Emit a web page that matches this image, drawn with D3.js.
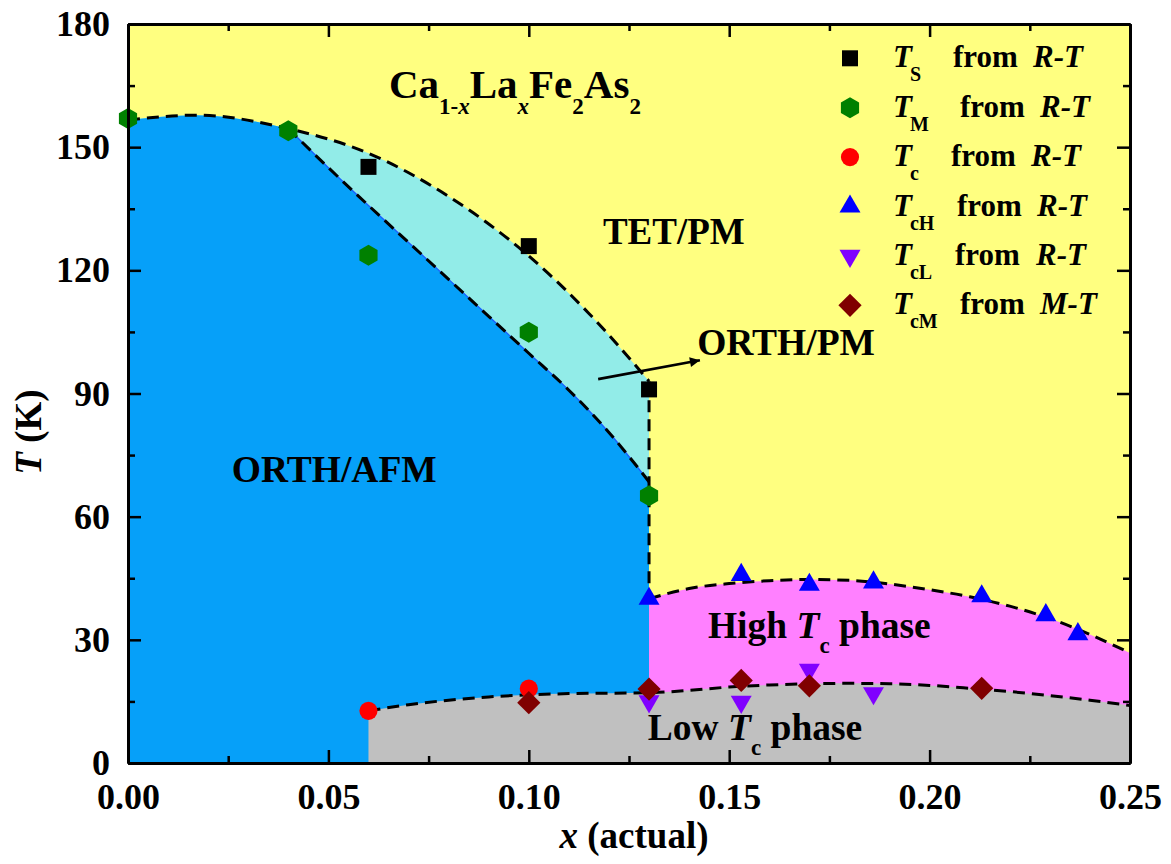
<!DOCTYPE html>
<html><head><meta charset="utf-8">
<script src="https://cdn.jsdelivr.net/npm/d3@7"></script>
<style>
body{margin:0;background:#fff}
svg text{font-family:"Liberation Serif","Times New Roman",serif;font-weight:bold;fill:#000}
</style>
</head><body>
<svg id="c" width="1171" height="864"></svg>
<script>
// ---------- data (x = La content, T in K) ----------
const tsX  = [0.06, 0.10, 0.13];
const tsT  = [145.2, 125.9, 91.0];
const tmX  = [0, 0.04, 0.06, 0.10, 0.13];
const tmT  = [157, 154, 123.7, 104.9, 65.1];
const tcX  = [0.06, 0.10];
const tcT  = [12.7, 18.1];
const tcHX = [0.13, 0.153, 0.170, 0.186, 0.213, 0.229, 0.237];
const tcHT = [40.0, 45.8, 43.4, 44.0, 40.6, 36.0, 31.4];
const tcLX = [0.13, 0.153, 0.170, 0.186];
const tcLT = [15.0, 14.9, 22.7, 17.0];
const tcMX = [0.10, 0.13, 0.153, 0.170, 0.213];
const tcMT = [14.7, 18.0, 20.1, 18.8, 18.2];

// phase boundaries (dashed guide lines)
const upperX = [0, 0.017, 0.04, 0.06, 0.08, 0.10, 0.115, 0.13];
const upperT = [156.6, 157.8, 154.5, 148.5, 138, 123.5, 109.5, 93];
const lowerX = [0.04, 0.05, 0.06, 0.07, 0.08, 0.09, 0.10, 0.11, 0.12, 0.13];
const lowerT = [154.5, 145, 135.8, 126.8, 117.8, 108.8, 99.8, 90.8, 80.5, 68.5];
const highX  = [0.13, 0.14, 0.15, 0.16, 0.17, 0.18, 0.19, 0.20, 0.21, 0.22, 0.23, 0.24, 0.25];
const highT  = [40, 42.5, 43.7, 44.4, 44.7, 44.5, 43.6, 42.2, 40.5, 38.2, 35.2, 31.3, 26.8];
const lowX   = [0.06, 0.07, 0.08, 0.09, 0.10, 0.11, 0.12, 0.13, 0.14, 0.15, 0.16, 0.17, 0.18, 0.19, 0.20, 0.21, 0.22, 0.23, 0.24, 0.25];
const lowT   = [12.7, 14.2, 15.3, 16.1, 16.6, 16.9, 17.0, 17.1, 17.7, 18.5, 19.0, 19.3, 19.4, 19.3, 18.9, 18.2, 17.4, 16.4, 15.3, 14.0];

const xMajor = [0, 0.05, 0.10, 0.15, 0.20, 0.25];
const xMinor = [0.025, 0.075, 0.125, 0.175, 0.225];
const yMajor = [0, 30, 60, 90, 120, 150, 180];
const yMinor = [15, 45, 75, 105, 135, 165];

const legendSub = ["S", "M", "c", "cH", "cL", "cM"];
const legendSrc = ["R-T", "R-T", "R-T", "R-T", "R-T", "M-T"];

// ---------- drawing ----------
const svg = d3.select("#c");
const xs = d3.scaleLinear().domain([0, 0.25]).range([128, 1130]);
const ys = d3.scaleLinear().domain([0, 180]).range([763, 24]);
const zip = (a, b) => a.map((v, i) => [v, b[i]]);
const line = d3.line().x(d => xs(d[0])).y(d => ys(d[1])).curve(d3.curveMonotoneX);
const P = (x, t) => xs(x) + "," + ys(t);
const tail = s => s.replace(/^M/, "L");

const upper = zip(upperX, upperT), lower = zip(lowerX, lowerT);
const high = zip(highX, highT), low = zip(lowX, lowT);

const defs = svg.append("defs");
defs.append("clipPath").attr("id", "plot").append("rect")
  .attr("x", xs(0)).attr("y", ys(180)).attr("width", xs(0.25) - xs(0)).attr("height", ys(0) - ys(180));
const underUpper = "M" + P(0, 0) + tail(line(upper)) + "L" + P(0.13, 0) + "Z";
defs.append("clipPath").attr("id", "uu").append("path").attr("d", underUpper);

const g = svg.append("g").attr("clip-path", "url(#plot)");
g.append("rect").attr("x", xs(0)).attr("y", ys(180)).attr("width", xs(0.25) - xs(0)).attr("height", ys(0) - ys(180)).attr("fill", "#FFFF80");
// cyan ORTH/PM
g.append("path").attr("d", underUpper).attr("fill", "#92ECE8");
// blue ORTH/AFM
g.append("path").attr("clip-path", "url(#uu)")
  .attr("d", "M" + P(0, 0) + "L" + P(0, 180) + "L" + P(0.04, 180) + tail(line(lower)) + "L" + P(0.13, 0) + "Z")
  .attr("fill", "#06A0F9");
g.append("path").attr("d", line(lower)).attr("fill", "none").attr("stroke", "#1a5cff").attr("stroke-width", 1.3);
// pink high Tc
g.append("path").attr("d", "M" + P(0.13, 0) + tail(line(high)) + "L" + P(0.25, 0) + "Z").attr("fill", "#FF80FF");
// gray low Tc
g.append("path").attr("d", "M" + P(0.06, 0) + tail(line(low)) + "L" + P(0.25, 0) + "Z").attr("fill", "#C0C0C0");

// dashed boundaries
const dash = sel => sel.attr("fill", "none").attr("stroke", "#000").attr("stroke-width", 3).attr("stroke-dasharray", "12,7");
dash(g.append("path").attr("d", line(upper)));
dash(g.append("path").attr("d", line(lower)));
dash(g.append("path").attr("d", line(high)));
dash(g.append("path").attr("d", line(low)));
dash(g.append("path").attr("d", "M" + P(0.13, upperT[upperT.length - 1]) + "L" + P(0.13, highT[0])));

// annotation labels
function label(x, t, parts, size) {
  const tx = svg.append("text").attr("x", xs(x)).attr("y", ys(t)).style("font-size", size + "px");
  parts.forEach(p => {
    const s = tx.append("tspan").text(p.t);
    if (p.i) s.style("font-style", "italic");
    if (p.sub) s.style("font-size", p.sub + "px");
    if (p.dy) s.attr("dy", p.dy);
  });
  return tx;
}
label(0.0651, 162.0, [{t:"Ca"},{t:"1-",sub:23,dy:16},{t:"x",i:1,sub:23},{t:"La",dy:-16},{t:"x",i:1,sub:23,dy:16},{t:"Fe",dy:-16},{t:"2",sub:23,dy:16},{t:"As",dy:-16},{t:"2",sub:23,dy:16}], 41);
label(0.1185, 126.4, [{t:"TET/PM"}], 37);
label(0.142, 99.4, [{t:"ORTH/PM"}], 37.5);
label(0.0259, 68.4, [{t:"ORTH/AFM"}], 37.5);
label(0.1447, 30.4, [{t:"High "},{t:"T",i:1},{t:"c",sub:23,dy:15},{t:" phase",dy:-15}], 37.5);
label(0.1297, 5.6, [{t:"Low "},{t:"T",i:1},{t:"c",sub:23,dy:15},{t:" phase",dy:-15}], 37.5);

// arrow
defs.append("marker").attr("id", "ah").attr("viewBox", "0 0 10 10").attr("refX", 10).attr("refY", 5)
  .attr("markerWidth", 20).attr("markerHeight", 10).attr("markerUnits", "userSpaceOnUse").attr("orient", "auto")
  .append("path").attr("d", "M0,0L10,5L0,10Z").attr("fill", "#000");
svg.append("line").attr("x1", xs(0.1173)).attr("y1", ys(93.5)).attr("x2", xs(0.1427)).attr("y2", ys(98.1))
  .attr("stroke", "#000").attr("stroke-width", 2.6).attr("marker-end", "url(#ah)");

// markers
const sym = {
  sq:  d3.symbol().type(d3.symbolSquare).size(256)(),
  ci:  d3.symbol().type(d3.symbolCircle).size(260)(),
  tri: d3.symbol().type(d3.symbolTriangle).size(190)(),
  dia: d3.symbol().type(d3.symbolSquare).size(270)(),
  hex: (() => { const r = 10.5; return "M" + d3.range(6).map(i => { const a = Math.PI / 3 * i - Math.PI / 2; return (r * Math.cos(a)).toFixed(2) + "," + (r * Math.sin(a)).toFixed(2); }).join("L") + "Z"; })()
};
const series = [
  {x: tsX,  t: tsT,  d: sym.sq,  c: "#000000", r: 0},
  {x: tmX,  t: tmT,  d: sym.hex, c: "#008000", r: 0},
  {x: tcX,  t: tcT,  d: sym.ci,  c: "#FF0000", r: 0},
  {x: tcHX, t: tcHT, d: sym.tri, c: "#0000FF", r: 0},
  {x: tcLX, t: tcLT, d: sym.tri, c: "#8000FF", r: 180},
  {x: tcMX, t: tcMT, d: sym.dia, c: "#800000", r: 45}
];
series.forEach(s => {
  svg.selectAll(null).data(zip(s.x, s.t)).enter().append("path")
    .attr("d", s.d).attr("fill", s.c)
    .attr("transform", d => `translate(${xs(d[0])},${ys(d[1])}) rotate(${s.r})`);
});

// axes
const axG = svg.append("g");
function ax(gen, tr, vals, size, fmt, pad) {
  const a = axG.append("g").attr("transform", tr)
    .call(gen.tickValues(vals).tickSize(size).tickSizeOuter(0).tickPadding(pad).tickFormat(fmt));
  a.select(".domain").attr("stroke-width", 3);
  a.selectAll(".tick line").attr("stroke-width", 2.5);
  a.selectAll("text").style("font-family", '"Liberation Serif","Times New Roman",serif').style("font-weight", "bold").style("font-size", "36px").attr("fill", "#000");
  return a;
}
const none = () => "";
ax(d3.axisBottom(xs), `translate(0,${ys(0)})`, xMajor, -13, d3.format(".2f"), 20);
ax(d3.axisBottom(xs), `translate(0,${ys(0)})`, xMinor, -7, none, 0);
ax(d3.axisTop(xs), `translate(0,${ys(180)})`, xMajor, -13, none, 0);
ax(d3.axisTop(xs), `translate(0,${ys(180)})`, xMinor, -7, none, 0);
ax(d3.axisLeft(ys), `translate(${xs(0)},0)`, yMajor, -13, d3.format("d"), 18);
ax(d3.axisLeft(ys), `translate(${xs(0)},0)`, yMinor, -7, none, 0);
ax(d3.axisRight(ys), `translate(${xs(0.25)},0)`, yMajor, -13, none, 0);
ax(d3.axisRight(ys), `translate(${xs(0.25)},0)`, yMinor, -7, none, 0);

// axis titles
const xt = svg.append("text").attr("x", 634).attr("y", 848).attr("text-anchor", "middle").style("font-size", "37px");
xt.append("tspan").text("x").style("font-style", "italic");
xt.append("tspan").text(" (actual)");
const yt = svg.append("text").attr("transform", "translate(41,432) rotate(-90)").attr("text-anchor", "middle").style("font-size", "37px");
yt.append("tspan").text("T").style("font-style", "italic");
yt.append("tspan").text(" (K)");

// legend
const fromX = [953, 960, 951, 957, 955, 960];
const srcX  = [1033, 1040, 1031, 1037, 1036, 1040];
series.forEach((s, i) => {
  const cy = 58.3 + i * 49.4;
  svg.append("path").attr("d", s.d).attr("fill", s.c).attr("transform", `translate(850,${cy}) rotate(${s.r})`);
  const t = svg.append("text").attr("x", 893).attr("y", cy + 9).style("font-size", "31px");
  t.append("tspan").text("T").style("font-style", "italic");
  t.append("tspan").text(legendSub[i]).style("font-size", "20px").attr("dy", 14).attr("dx", -2);
  svg.append("text").attr("x", fromX[i]).attr("y", cy + 9).style("font-size", "31px").text("from");
  svg.append("text").attr("x", srcX[i]).attr("y", cy + 9).style("font-size", "31px").style("font-style", "italic").text(legendSrc[i]);
});
</script>
</body></html>
